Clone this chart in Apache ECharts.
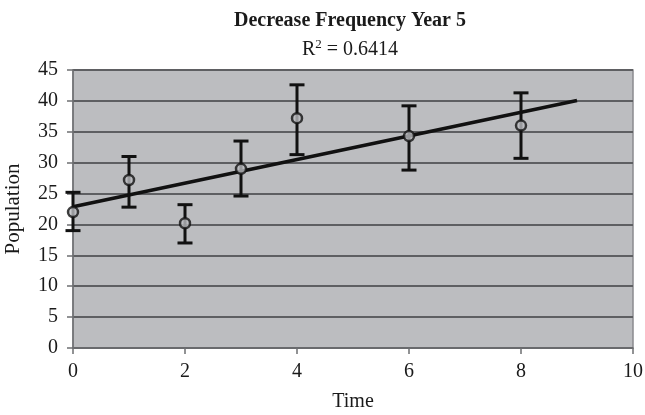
<!DOCTYPE html>
<html>
<head>
<meta charset="utf-8">
<script src="https://cdn.jsdelivr.net/npm/echarts@6/dist/echarts.min.js"></script>
<style>
  html, body { margin: 0; padding: 0; background: #fff; }
  #chart { width: 645px; height: 415px; }
</style>
</head>
<body>
<div id="chart"></div>
<script>
// Observations: time, mean population, and error-bar limits
const times = [0, 1, 2, 3, 4, 6, 8];
const population = [22, 27.2, 20.2, 29, 37.2, 34.3, 36];
const errLow = [19, 22.8, 17, 24.6, 31.3, 28.8, 30.7];
const errHigh = [25.2, 31, 23.2, 33.5, 42.6, 39.2, 41.3];
const trendEndX = 9;
const rSquaredText = '0.6414';

// Least-squares linear fit
const n = times.length;
const mx = times.reduce((a, b) => a + b, 0) / n;
const my = population.reduce((a, b) => a + b, 0) / n;
let sxy = 0, sxx = 0;
for (let i = 0; i < n; i++) {
  sxy += (times[i] - mx) * (population[i] - my);
  sxx += (times[i] - mx) * (times[i] - mx);
}
const slope = sxy / sxx;
const intercept = my - slope * mx;
const trend = [[0, intercept], [trendEndX, intercept + slope * trendEndX]];

const points = times.map((t, i) => [t, population[i]]);
const bars = times.map((t, i) => [t, errLow[i], errHigh[i]]);

const serif = '"Liberation Serif", "DejaVu Serif", serif';
const ink = '#1a1a1a';
const plotFill = '#bcbdc0';

const chart = echarts.init(document.getElementById('chart'));
chart.setOption({
  animation: false,
  backgroundColor: '#ffffff',
  textStyle: { fontFamily: serif },
  title: [
    {
      text: 'Decrease Frequency Year 5',
      left: 350, top: 11, padding: 0, textAlign: 'center',
      textStyle: { fontFamily: serif, fontSize: 20, fontWeight: 'bold', color: ink }
    },
    {
      text: '{r|R}{sup|2}{r| = ' + rSquaredText + '}',
      left: 350, top: 38, padding: 0, textAlign: 'center',
      textStyle: {
        fontFamily: serif, fontWeight: 'normal', color: ink,
        rich: {
          r: { fontFamily: serif, fontSize: 20, fontWeight: 'normal', color: ink, verticalAlign: 'bottom', lineHeight: 22 },
          sup: { fontFamily: serif, fontSize: 13, fontWeight: 'normal', color: ink, verticalAlign: 'top', lineHeight: 12 }
        }
      }
    }
  ],
  grid: {
    left: 73, right: 12, top: 70, bottom: 67,
    outerBoundsMode: 'none', containLabel: false,
    show: true, backgroundColor: plotFill, borderColor: '#8a8b8e', borderWidth: 1.5
  },
  xAxis: {
    type: 'value', min: 0, max: 10, interval: 2,
    name: 'Time', nameLocation: 'middle', nameGap: 44,
    nameTextStyle: { fontFamily: serif, fontSize: 20, color: ink },
    axisLine: { onZero: false, lineStyle: { color: '#6e6f72', width: 1.5 } },
    axisTick: { show: true, length: 6, lineStyle: { color: '#6e6f72', width: 1.5 } },
    axisLabel: { fontFamily: serif, fontSize: 20, color: ink, margin: 14 },
    splitLine: { show: false }
  },
  yAxis: {
    type: 'value', min: 0, max: 45, interval: 5,
    name: 'Population', nameLocation: 'middle', nameGap: 49,
    nameTextStyle: { fontFamily: serif, fontSize: 21, color: ink },
    axisLine: { show: true, lineStyle: { color: '#6e6f72', width: 1.5 } },
    axisTick: { show: true, length: 6, lineStyle: { color: '#6e6f72', width: 1.5 } },
    axisLabel: { fontFamily: serif, fontSize: 20, color: ink, margin: 15 },
    splitLine: { show: true, lineStyle: { color: '#5e5f62', width: 2 } }
  },
  series: [
    {
      type: 'line',
      data: trend,
      symbol: 'none',
      lineStyle: { color: '#111', width: 3.5 },
      z: 3
    },
    {
      type: 'custom',
      data: bars,
      renderItem: function (params, api) {
        const x = api.value(0);
        const lo = api.coord([x, api.value(1)]);
        const hi = api.coord([x, api.value(2)]);
        const cap = 7.5;
        const style = { stroke: '#111', lineWidth: 3 };
        return {
          type: 'group',
          children: [
            { type: 'line', shape: { x1: lo[0], y1: lo[1], x2: hi[0], y2: hi[1] }, style: style },
            { type: 'line', shape: { x1: lo[0] - cap, y1: lo[1], x2: lo[0] + cap, y2: lo[1] }, style: style },
            { type: 'line', shape: { x1: hi[0] - cap, y1: hi[1], x2: hi[0] + cap, y2: hi[1] }, style: style }
          ]
        };
      },
      z: 4
    },
    {
      type: 'scatter',
      data: points,
      symbol: 'circle',
      symbolSize: 10,
      itemStyle: { color: plotFill, borderColor: '#111', borderWidth: 2.5 },
      z: 5
    }
  ]
});
</script>
</body>
</html>
